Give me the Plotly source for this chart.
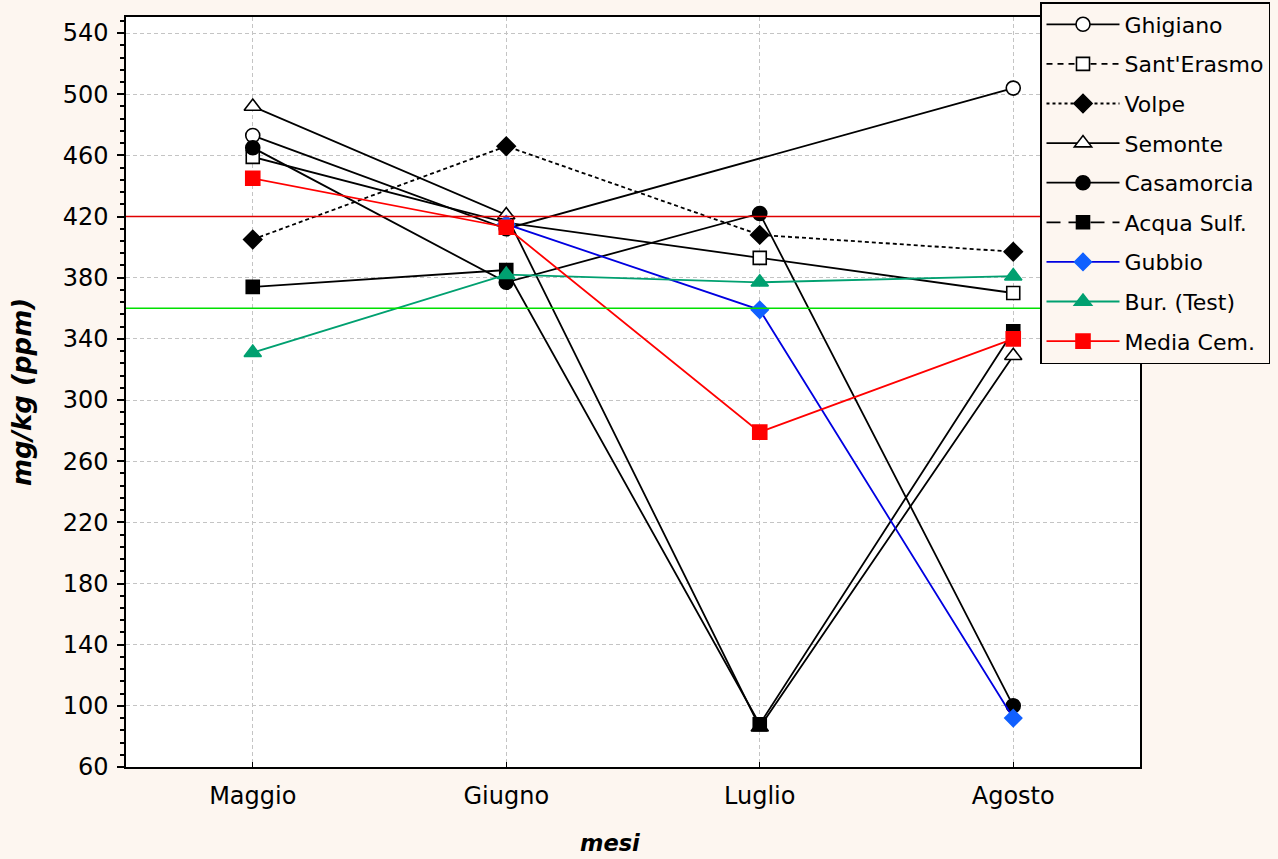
import plotly.graph_objects as go

mesi = ["Maggio", "Giugno", "Luglio", "Agosto"]

ghigiano = [473, 412, None, 504]
sant_erasmo = [459, 416, 393, 370]
volpe = [405, 466, 408, 397]
semonte = [492, 421, 86, 329]
casamorcia = [465, 377, 422, 100]
acqua_sulf = [374, 385, 88, 345]
gubbio = [None, 415, 359, 92]
bur_test = [331, 382, 377, 381]
media_cem = [445, 413, 279, 340]

limite_rosso = 420
limite_verde = 360

y_ticks = [60, 100, 140, 180, 220, 260, 300, 340, 380, 420, 460, 500, 540]

BG = "#FDF6F0"

series = [
    # name, values, line color, dash(plot), dash(legend), symbol, marker fill, marker line, size
    ("Ghigiano", ghigiano, "black", "solid", "solid", "circle", "white", "black", 14),
    ("Sant'Erasmo", sant_erasmo, "black", "solid", "6px,5px", "square", "white", "black", 13),
    ("Volpe", volpe, "black", "4px,3px", "3px,3px", "diamond", "black", "black", 14),
    ("Semonte", semonte, "black", "solid", "solid", "triangle-up", "white", "black", 15),
    ("Casamorcia", casamorcia, "black", "solid", "solid", "circle", "black", "black", 14),
    ("Acqua Sulf.", acqua_sulf, "black", "solid", "14px,8px", "square", "black", "black", 13),
    ("Gubbio", gubbio, "#0000E0", "solid", "solid", "diamond", "#1060FF", "#1060FF", 13),
    ("Bur. (Test)", bur_test, "#00A070", "solid", "solid", "triangle-up", "#00A070", "#00A070", 15),
    ("Media Cem.", media_cem, "#FF0000", "solid", "solid", "square", "#FF0000", "#FF0000", 14),
]

fig = go.Figure()

for i, (name, vals, lc, dash, ldash, sym, fill, mline, size) in enumerate(series):
    fig.add_trace(go.Scatter(
        x=mesi, y=vals, mode="lines+markers", name=name,
        connectgaps=True, showlegend=False, legendgroup=f"g{i}",
        line=dict(color=lc, width=1.8, dash=dash),
        marker=dict(symbol=sym, size=size, color=fill,
                    line=dict(color=mline, width=1.6)),
    ))
    # legend proxy
    fig.add_trace(go.Scatter(
        x=[None], y=[None], mode="lines+markers", name=name,
        legendgroup=f"g{i}", showlegend=True,
        line=dict(color=lc, width=1.8, dash=ldash),
        marker=dict(symbol=sym, size=size, color=fill,
                    line=dict(color=mline, width=1.6)),
    ))

fig.add_shape(type="line", xref="paper", x0=0, x1=1, yref="y",
              y0=limite_rosso, y1=limite_rosso,
              line=dict(color="#E00000", width=1.5))
fig.add_shape(type="line", xref="paper", x0=0, x1=1, yref="y",
              y0=limite_verde, y1=limite_verde,
              line=dict(color="#00E000", width=1.5))

fig.add_annotation(text="<b><i>mesi</i></b>", xref="paper", yref="paper",
                   x=0.477, y=-0.101, xanchor="center", yanchor="middle",
                   showarrow=False, font=dict(size=22.5))

font_family = "DejaVu Sans, Arial, sans-serif"

fig.update_layout(
    width=1278, height=859,
    margin=dict(l=126, r=138, t=17, b=92, autoexpand=False),
    paper_bgcolor=BG, plot_bgcolor="white",
    font=dict(family=font_family, size=22, color="black"),
    legend=dict(
        xref="container", yref="container",
        x=1040 / 1278, y=1 - 2 / 859, xanchor="left", yanchor="top",
        bgcolor=BG, bordercolor="black", borderwidth=1.5,
        font=dict(size=22), tracegroupgap=8,
        traceorder="grouped", itemwidth=73,
    ),
    xaxis=dict(
        type="category", range=[-0.5, 3.5],
        showline=True, linecolor="black", linewidth=1.5, mirror=True,
        showgrid=True, gridcolor="#C4C4C4", griddash="4px,3px", gridwidth=1,
        ticks="inside", ticklen=5, tickcolor="black",
        tickfont=dict(size=24), ticklabelstandoff=6,
    ),
    yaxis=dict(
        range=[60, 550.5],
        tickvals=y_ticks,
        showline=True, linecolor="black", linewidth=1.5, mirror=True,
        showgrid=True, gridcolor="#C4C4C4", griddash="4px,3px", gridwidth=1,
        zeroline=False,
        ticks="outside", ticklen=7, tickcolor="black", tickwidth=1.5,
        tickfont=dict(size=24), ticklabelstandoff=4,
        minor=dict(dtick=8, tick0=60, ticks="outside", ticklen=4,
                   tickcolor="black", showgrid=False),
        title=dict(text="<b><i>mg/kg (ppm)</i></b>", font=dict(size=26), standoff=24),
    ),
)

fig.write_html("out.html", config={"displayModeBar": False},
               post_script="document.body.style.margin='0';document.body.style.overflow='hidden';")
